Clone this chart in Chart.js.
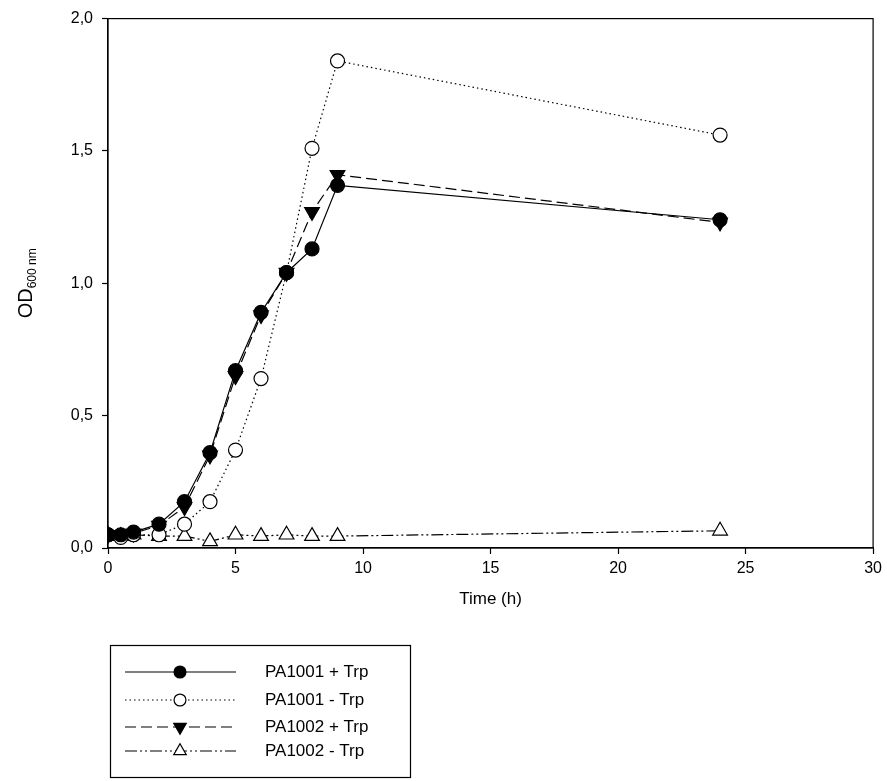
<!DOCTYPE html>
<html><head><meta charset="utf-8">
<script src="https://cdn.jsdelivr.net/npm/chart.js@4"></script>
<style>body{margin:0;background:#fff}canvas{display:block}</style>
</head><body>
<canvas id="c" width="887" height="781"></canvas>
<script>
const times = [0, 0.5, 1, 2, 3, 4, 5, 6, 7, 8, 9, 24];
const pa1001Plus = [0.05, 0.05, 0.06, 0.09, 0.175, 0.36, 0.67, 0.89, 1.04, 1.13, 1.37, 1.24];
const pa1001Minus = [0.05, 0.04, 0.05, 0.05, 0.09, 0.175, 0.37, 0.64, 1.04, 1.51, 1.84, 1.56];
const pa1002Plus = [0.05, 0.05, 0.055, 0.085, 0.155, 0.35, 0.65, 0.88, 1.04, 1.27, 1.41, 1.23];
const pa1002Minus = [0.05, 0.045, 0.05, 0.045, 0.045, 0.025, 0.05, 0.045, 0.05, 0.045, 0.045, 0.065];
const seriesNames = ['PA1001 + Trp', 'PA1001 - Trp', 'PA1002 + Trp', 'PA1002 - Trp'];

const FONT = '"Liberation Sans", Arial, sans-serif';
const pts = arr => arr.map((v, i) => ({ x: times[i], y: v }));

const styles = [
  { dash: [], style: 'circle', fill: '#000', rot: 0, r: 7 },
  { dash: [1.5, 3], style: 'circle', fill: '#fff', rot: 0, r: 7 },
  { dash: [11, 5], style: 'triangle', fill: '#000', rot: 180, r: 8.5 },
  { dash: [12, 3, 2, 3, 2, 3], style: 'triangle', fill: '#fff', rot: 0, r: 8.5 }
];
const values = [pa1001Plus, pa1001Minus, pa1002Plus, pa1002Minus];

const datasets = values.map((v, i) => ({
  label: seriesNames[i],
  data: pts(v),
  borderColor: '#000',
  borderWidth: 1.2,
  borderDash: styles[i].dash,
  pointStyle: styles[i].style,
  pointRotation: styles[i].rot,
  pointRadius: styles[i].r,
  pointBorderWidth: 1.2,
  pointBackgroundColor: styles[i].fill,
  pointBorderColor: '#000',
  tension: 0
}));

const extras = {
  id: 'extras',
  afterDraw(chart) {
    const ctx = chart.ctx, a = chart.chartArea;
    ctx.save();
    ctx.strokeStyle = '#000';
    ctx.lineWidth = 1.2;
    ctx.strokeRect(a.left, a.top, a.right - a.left, a.bottom - a.top);
    ctx.fillStyle = '#000';
    // x title
    ctx.font = '17px ' + FONT;
    ctx.textAlign = 'center';
    ctx.textBaseline = 'middle';
    ctx.fillText('Time (h)', (a.left + a.right) / 2, 599);
    // y title with subscript
    ctx.translate(32, (a.top + a.bottom) / 2);
    ctx.rotate(-Math.PI / 2);
    ctx.textAlign = 'left';
    ctx.textBaseline = 'alphabetic';
    ctx.font = '20px ' + FONT;
    const w1 = ctx.measureText('OD').width;
    ctx.font = '12px ' + FONT;
    const w2 = ctx.measureText('600 nm').width;
    const x0 = -(w1 + w2) / 2;
    ctx.font = '20px ' + FONT;
    ctx.fillText('OD', x0, 0);
    ctx.font = '12px ' + FONT;
    ctx.fillText('600 nm', x0 + w1, 4);
    ctx.setTransform(1, 0, 0, 1, 0, 0);
    // legend
    ctx.lineWidth = 1.2;
    ctx.strokeRect(110.5, 645.5, 300, 132);
    ctx.font = '17px ' + FONT;
    ctx.textBaseline = 'middle';
    ctx.textAlign = 'left';
    const rows = [672, 700, 727, 751];
    rows.forEach((y, i) => {
      const s = styles[i];
      ctx.lineWidth = 1.2;
      ctx.setLineDash(s.dash);
      ctx.beginPath(); ctx.moveTo(125, y); ctx.lineTo(236, y); ctx.stroke();
      ctx.setLineDash([]);
      ctx.fillStyle = s.fill;
      Chart.helpers.drawPoint(ctx, { pointStyle: s.style, rotation: s.rot, radius: s.r * 0.85, borderWidth: 1.2 }, 180, y);
      ctx.fillStyle = '#000';
      ctx.fillText(seriesNames[i], 265, y);
    });
    ctx.restore();
  }
};

new Chart(document.getElementById('c'), {
  type: 'line',
  data: { datasets },
  options: {
    responsive: false,
    animation: false,
    layout: { padding: { top: 6, right: 13, left: 0, bottom: 0 } },
    plugins: { legend: { display: false }, tooltip: { enabled: false } },
    scales: {
      x: {
        type: 'linear', min: 0, max: 30,
        afterFit: s => { s.height = 781 - 548; },
        ticks: { stepSize: 5, color: '#000', font: { size: 16, family: FONT }, maxRotation: 0, padding: 5 },
        grid: { drawOnChartArea: false, tickLength: 6, color: '#000', tickWidth: 1.2 },
        border: { color: '#000', width: 1.2 }
      },
      y: {
        min: 0, max: 2,
        afterFit: s => { s.width = 108; },
        ticks: { stepSize: 0.5, color: '#000', font: { size: 16, family: FONT }, padding: 9,
          callback: v => v.toFixed(1).replace('.', ',') },
        grid: { drawOnChartArea: false, tickLength: 6, color: '#000', tickWidth: 1.2 },
        border: { color: '#000', width: 1.2 }
      }
    }
  },
  plugins: [extras]
});
</script>
</body></html>
